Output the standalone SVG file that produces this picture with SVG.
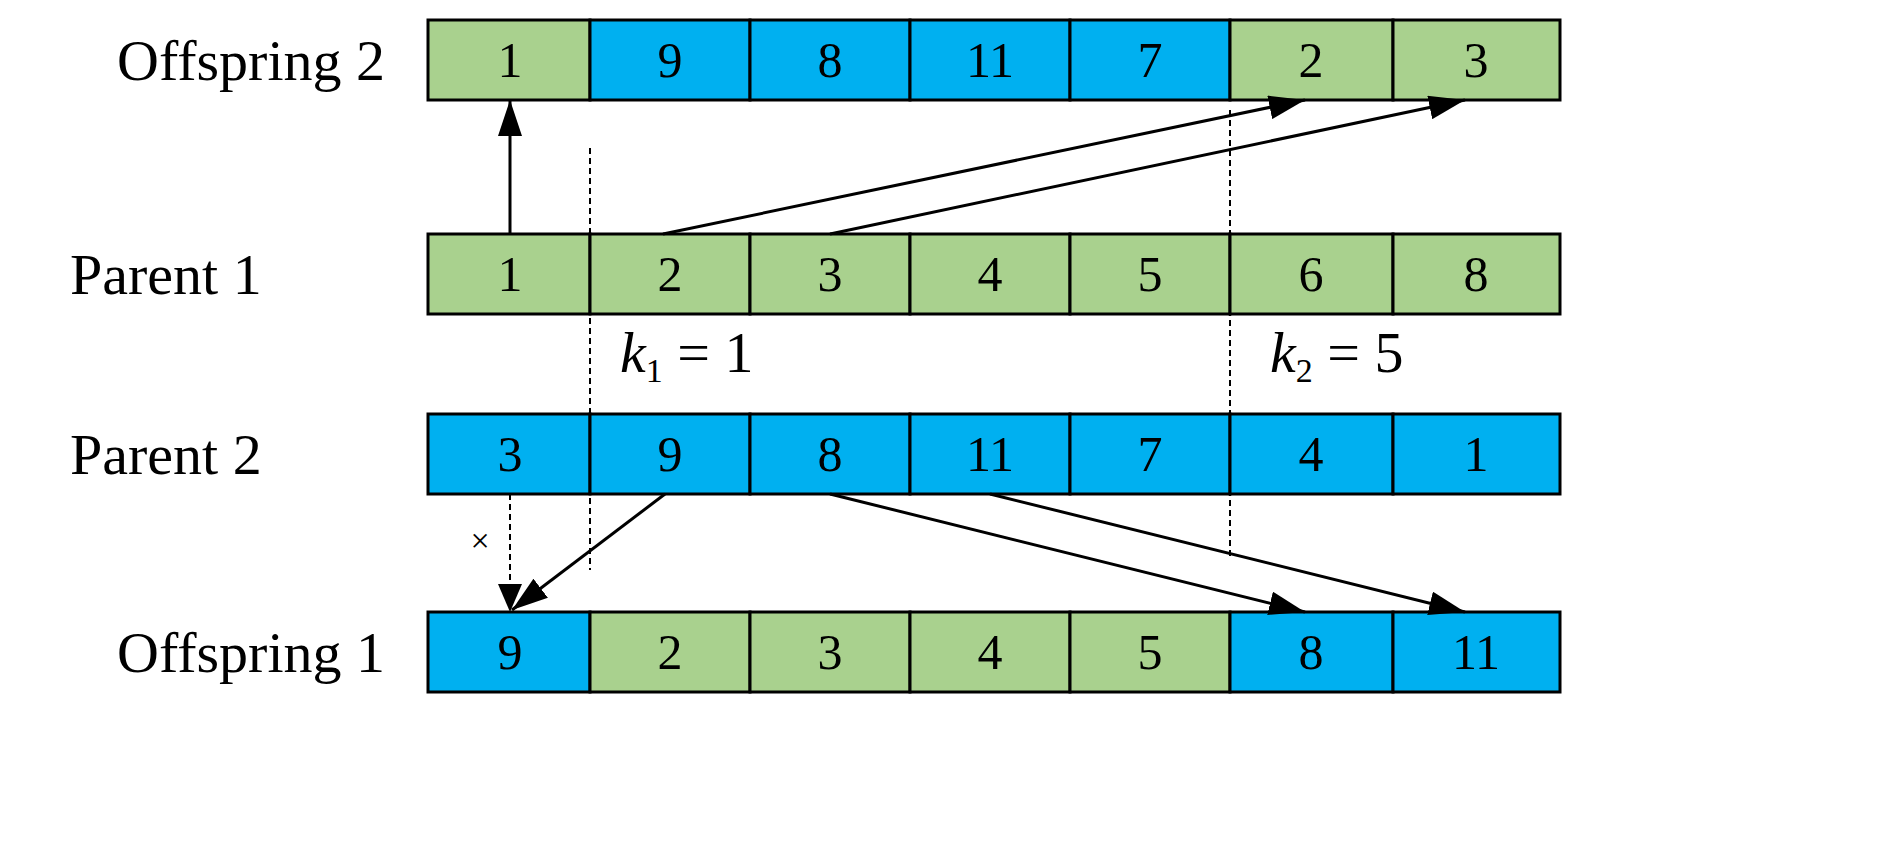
<svg xmlns="http://www.w3.org/2000/svg" width="1889" height="864" viewBox="0 0 1889 864">
<style>
.g{fill:#A9D18E;stroke:#000;stroke-width:3}
.b{fill:#00B0F0;stroke:#000;stroke-width:3}
.t{font-family:"Liberation Serif",serif;font-size:50px;text-anchor:middle}
.l{font-family:"Liberation Serif",serif;font-size:58px}
.a{stroke:#000;stroke-width:3;fill:none;marker-end:url(#ah)}
.d{stroke:#000;stroke-width:2;stroke-dasharray:6,4;fill:none}
</style>
<defs><marker id="ah" markerWidth="12" markerHeight="8" refX="12" refY="4" orient="auto" markerUnits="userSpaceOnUse" viewBox="0 0 12 8"><path d="M0,0L12,4L0,8z"/></marker>
<marker id="ah2" markerWidth="36" markerHeight="24" refX="36" refY="12" orient="auto" markerUnits="userSpaceOnUse"><path d="M0,0L36,12L0,24z"/></marker></defs>
<style>.a{marker-end:url(#ah2)}</style>
<g id="offspring2">
<text class="l" x="385" y="80" text-anchor="end">Offspring 2</text>
<rect class="g" x="428" y="20" width="162" height="80"/><rect class="b" x="590" y="20" width="160" height="80"/><rect class="b" x="750" y="20" width="160" height="80"/><rect class="b" x="910" y="20" width="160" height="80"/><rect class="b" x="1070" y="20" width="160" height="80"/><rect class="g" x="1230" y="20" width="163" height="80"/><rect class="g" x="1393" y="20" width="167" height="80"/>
<g class="t"><text x="510" y="77">1</text><text x="670" y="77">9</text><text x="830" y="77">8</text><text x="990" y="77">11</text><text x="1150" y="77">7</text><text x="1311" y="77">2</text><text x="1476" y="77">3</text></g>
</g>
<g id="parent1">
<text class="l" x="70" y="294">Parent 1</text>
<rect class="g" x="428" y="234" width="162" height="80"/><rect class="g" x="590" y="234" width="160" height="80"/><rect class="g" x="750" y="234" width="160" height="80"/><rect class="g" x="910" y="234" width="160" height="80"/><rect class="g" x="1070" y="234" width="160" height="80"/><rect class="g" x="1230" y="234" width="163" height="80"/><rect class="g" x="1393" y="234" width="167" height="80"/>
<g class="t"><text x="510" y="291">1</text><text x="670" y="291">2</text><text x="830" y="291">3</text><text x="990" y="291">4</text><text x="1150" y="291">5</text><text x="1311" y="291">6</text><text x="1476" y="291">8</text></g>
</g>
<g id="parent2">
<text class="l" x="70" y="474">Parent 2</text>
<rect class="b" x="428" y="414" width="162" height="80"/><rect class="b" x="590" y="414" width="160" height="80"/><rect class="b" x="750" y="414" width="160" height="80"/><rect class="b" x="910" y="414" width="160" height="80"/><rect class="b" x="1070" y="414" width="160" height="80"/><rect class="b" x="1230" y="414" width="163" height="80"/><rect class="b" x="1393" y="414" width="167" height="80"/>
<g class="t"><text x="510" y="471">3</text><text x="670" y="471">9</text><text x="830" y="471">8</text><text x="990" y="471">11</text><text x="1150" y="471">7</text><text x="1311" y="471">4</text><text x="1476" y="471">1</text></g>
</g>
<g id="offspring1">
<text class="l" x="385" y="672" text-anchor="end">Offspring 1</text>
<rect class="b" x="428" y="612" width="162" height="80"/><rect class="g" x="590" y="612" width="160" height="80"/><rect class="g" x="750" y="612" width="160" height="80"/><rect class="g" x="910" y="612" width="160" height="80"/><rect class="g" x="1070" y="612" width="160" height="80"/><rect class="b" x="1230" y="612" width="163" height="80"/><rect class="b" x="1393" y="612" width="167" height="80"/>
<g class="t"><text x="510" y="669">9</text><text x="670" y="669">2</text><text x="830" y="669">3</text><text x="990" y="669">4</text><text x="1150" y="669">5</text><text x="1311" y="669">8</text><text x="1476" y="669">11</text></g>
</g>
<g id="labels" class="l" font-size="52">
<text x="620" y="372"><tspan font-style="italic">k</tspan><tspan font-size="34" dy="10">1</tspan><tspan dy="-10"> = 1</tspan></text>
<text x="1270" y="372"><tspan font-style="italic">k</tspan><tspan font-size="34" dy="10">2</tspan><tspan dy="-10"> = 5</tspan></text>
<text x="480" y="552" font-size="34" text-anchor="middle">×</text>
</g>
<g id="connectors">
<path class="d" d="M590,148V570M1230,110V558"/>
<path class="d" d="M510,494V584"/><path d="M498,584L510,612L522,584z"/>
<path class="a" d="M510,234V100"/>
<path class="a" d="M663,234L1305,100"/>
<path class="a" d="M830,234L1465,100"/>
<path class="a" d="M665,494L512,610"/>
<path class="a" d="M830,494L1305,612"/>
<path class="a" d="M990,494L1465,612"/>
</g>
</svg>
